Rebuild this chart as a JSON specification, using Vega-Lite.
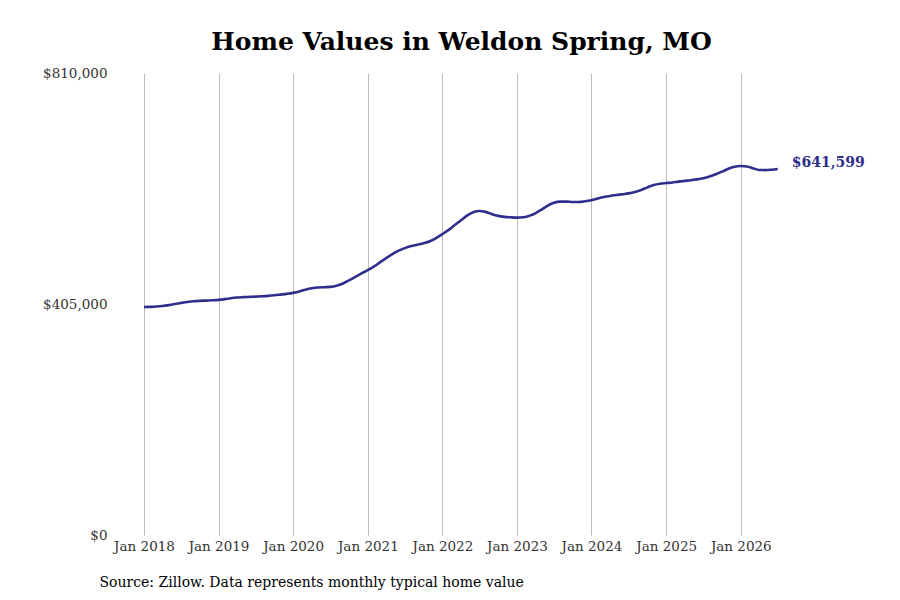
{
  "$schema": "https://vega.github.io/schema/vega-lite/v6.json",
  "autosize": "none",
  "padding": {"left": 144, "top": 73, "right": 91, "bottom": 65},
  "width": 665,
  "height": 462,
  "background": "white",
  "title": {
    "text": "Home Values in Weldon Spring, MO",
    "font": "DejaVu Serif",
    "fontSize": 25,
    "fontWeight": "bold",
    "color": "#000000",
    "anchor": "middle",
    "frame": "group",
    "dx": -15,
    "offset": 11
  },
  "data": {
    "values": [
      {"date": "2018-01-01", "value": 399700}, {"date": "2018-02-01", "value": 400000}, {"date": "2018-03-01", "value": 400500},
      {"date": "2018-04-01", "value": 401500}, {"date": "2018-05-01", "value": 403000}, {"date": "2018-06-01", "value": 405000},
      {"date": "2018-07-01", "value": 406800}, {"date": "2018-08-01", "value": 408500}, {"date": "2018-09-01", "value": 409800},
      {"date": "2018-10-01", "value": 410500}, {"date": "2018-11-01", "value": 411000}, {"date": "2018-12-01", "value": 411500},
      {"date": "2019-01-01", "value": 412200}, {"date": "2019-02-01", "value": 413500}, {"date": "2019-03-01", "value": 415000},
      {"date": "2019-04-01", "value": 416300}, {"date": "2019-05-01", "value": 417000}, {"date": "2019-06-01", "value": 417500},
      {"date": "2019-07-01", "value": 418000}, {"date": "2019-08-01", "value": 418500}, {"date": "2019-09-01", "value": 419200},
      {"date": "2019-10-01", "value": 420200}, {"date": "2019-11-01", "value": 421500}, {"date": "2019-12-01", "value": 422800},
      {"date": "2020-01-01", "value": 424500}, {"date": "2020-02-01", "value": 427000}, {"date": "2020-03-01", "value": 430000},
      {"date": "2020-04-01", "value": 432500}, {"date": "2020-05-01", "value": 434000}, {"date": "2020-06-01", "value": 434500},
      {"date": "2020-07-01", "value": 435000}, {"date": "2020-08-01", "value": 437000}, {"date": "2020-09-01", "value": 441000},
      {"date": "2020-10-01", "value": 446500}, {"date": "2020-11-01", "value": 452500}, {"date": "2020-12-01", "value": 458500},
      {"date": "2021-01-01", "value": 464500}, {"date": "2021-02-01", "value": 471000}, {"date": "2021-03-01", "value": 478000},
      {"date": "2021-04-01", "value": 485500}, {"date": "2021-05-01", "value": 492500}, {"date": "2021-06-01", "value": 498500},
      {"date": "2021-07-01", "value": 503000}, {"date": "2021-08-01", "value": 506500}, {"date": "2021-09-01", "value": 509000},
      {"date": "2021-10-01", "value": 511500}, {"date": "2021-11-01", "value": 515000}, {"date": "2021-12-01", "value": 520500},
      {"date": "2022-01-01", "value": 527500}, {"date": "2022-02-01", "value": 535000}, {"date": "2022-03-01", "value": 543000},
      {"date": "2022-04-01", "value": 551500}, {"date": "2022-05-01", "value": 560000}, {"date": "2022-06-01", "value": 566000},
      {"date": "2022-07-01", "value": 568000}, {"date": "2022-08-01", "value": 566500}, {"date": "2022-09-01", "value": 562500},
      {"date": "2022-10-01", "value": 559500}, {"date": "2022-11-01", "value": 557800}, {"date": "2022-12-01", "value": 557000},
      {"date": "2023-01-01", "value": 556500}, {"date": "2023-02-01", "value": 557000}, {"date": "2023-03-01", "value": 559500},
      {"date": "2023-04-01", "value": 564000}, {"date": "2023-05-01", "value": 570500}, {"date": "2023-06-01", "value": 577500},
      {"date": "2023-07-01", "value": 582500}, {"date": "2023-08-01", "value": 584500}, {"date": "2023-09-01", "value": 584500},
      {"date": "2023-10-01", "value": 583800}, {"date": "2023-11-01", "value": 583800}, {"date": "2023-12-01", "value": 585000},
      {"date": "2024-01-01", "value": 587000}, {"date": "2024-02-01", "value": 590000}, {"date": "2024-03-01", "value": 592500},
      {"date": "2024-04-01", "value": 594500}, {"date": "2024-05-01", "value": 596000}, {"date": "2024-06-01", "value": 597500},
      {"date": "2024-07-01", "value": 599000}, {"date": "2024-08-01", "value": 601500}, {"date": "2024-09-01", "value": 605000},
      {"date": "2024-10-01", "value": 609500}, {"date": "2024-11-01", "value": 613500}, {"date": "2024-12-01", "value": 615800},
      {"date": "2025-01-01", "value": 617000}, {"date": "2025-02-01", "value": 618000}, {"date": "2025-03-01", "value": 619500},
      {"date": "2025-04-01", "value": 620800}, {"date": "2025-05-01", "value": 622000}, {"date": "2025-06-01", "value": 623500},
      {"date": "2025-07-01", "value": 625500}, {"date": "2025-08-01", "value": 628500}, {"date": "2025-09-01", "value": 632500},
      {"date": "2025-10-01", "value": 637000}, {"date": "2025-11-01", "value": 642000}, {"date": "2025-12-01", "value": 645500},
      {"date": "2026-01-01", "value": 647000}, {"date": "2026-02-01", "value": 646000}, {"date": "2026-03-01", "value": 643000},
      {"date": "2026-04-01", "value": 640000}, {"date": "2026-05-01", "value": 639800}, {"date": "2026-06-01", "value": 640500},
      {"date": "2026-07-01", "value": 641599, "last": true}
    ]
  },
  "encoding": {
    "x": {
      "field": "date",
      "type": "temporal",
      "scale": {"domain": ["2018-01-01T00:00:00", "2026-12-01T00:00:00"]},
      "axis": {
        "format": "%b %Y",
        "tickCount": {"interval": "year", "step": 1},
        "grid": true,
        "gridColor": "#bbbbbb",
        "gridWidth": 1,
        "domain": false,
        "ticks": false,
        "labelPadding": 4,
        "labelAlign": "center",
        "labelOverlap": false,
        "labelFlush": false,
        "labelFont": "DejaVu Serif",
        "labelFontSize": 13.5,
        "labelColor": "#333333",
        "title": "Source: Zillow. Data represents monthly typical home value",
        "titleFont": "DejaVu Serif",
        "titleFontSize": 14,
        "titleFontWeight": "normal",
        "titleColor": "#000000",
        "titleAnchor": "start",
        "titleAlign": "left",
        "titleBaseline": "middle",
        "titleX": -45,
        "titleY": 47
      }
    },
    "y": {
      "field": "value",
      "type": "quantitative",
      "scale": {"domain": [0, 810000], "nice": false},
      "axis": {
        "values": [0, 405000, 810000],
        "format": "$,.0f",
        "grid": false,
        "domain": false,
        "ticks": false,
        "labelPadding": 37,
        "labelFont": "DejaVu Serif",
        "labelFontSize": 13.5,
        "labelColor": "#333333",
        "title": null
      }
    }
  },
  "layer": [
    {
      "mark": {"type": "line", "color": "#2e2f8c", "strokeWidth": 2.6, "interpolate": "monotone"}
    },
    {
      "transform": [{"filter": "datum.last"}],
      "mark": {
        "type": "text",
        "align": "left",
        "baseline": "middle",
        "dx": 14,
        "dy": -6,
        "font": "DejaVu Serif",
        "fontSize": 14,
        "fontWeight": "bold",
        "color": "#2e2f8c"
      },
      "encoding": {"text": {"field": "value", "type": "quantitative", "format": "$,.0f"}}
    }
  ],
  "config": {"view": {"stroke": null}}
}
